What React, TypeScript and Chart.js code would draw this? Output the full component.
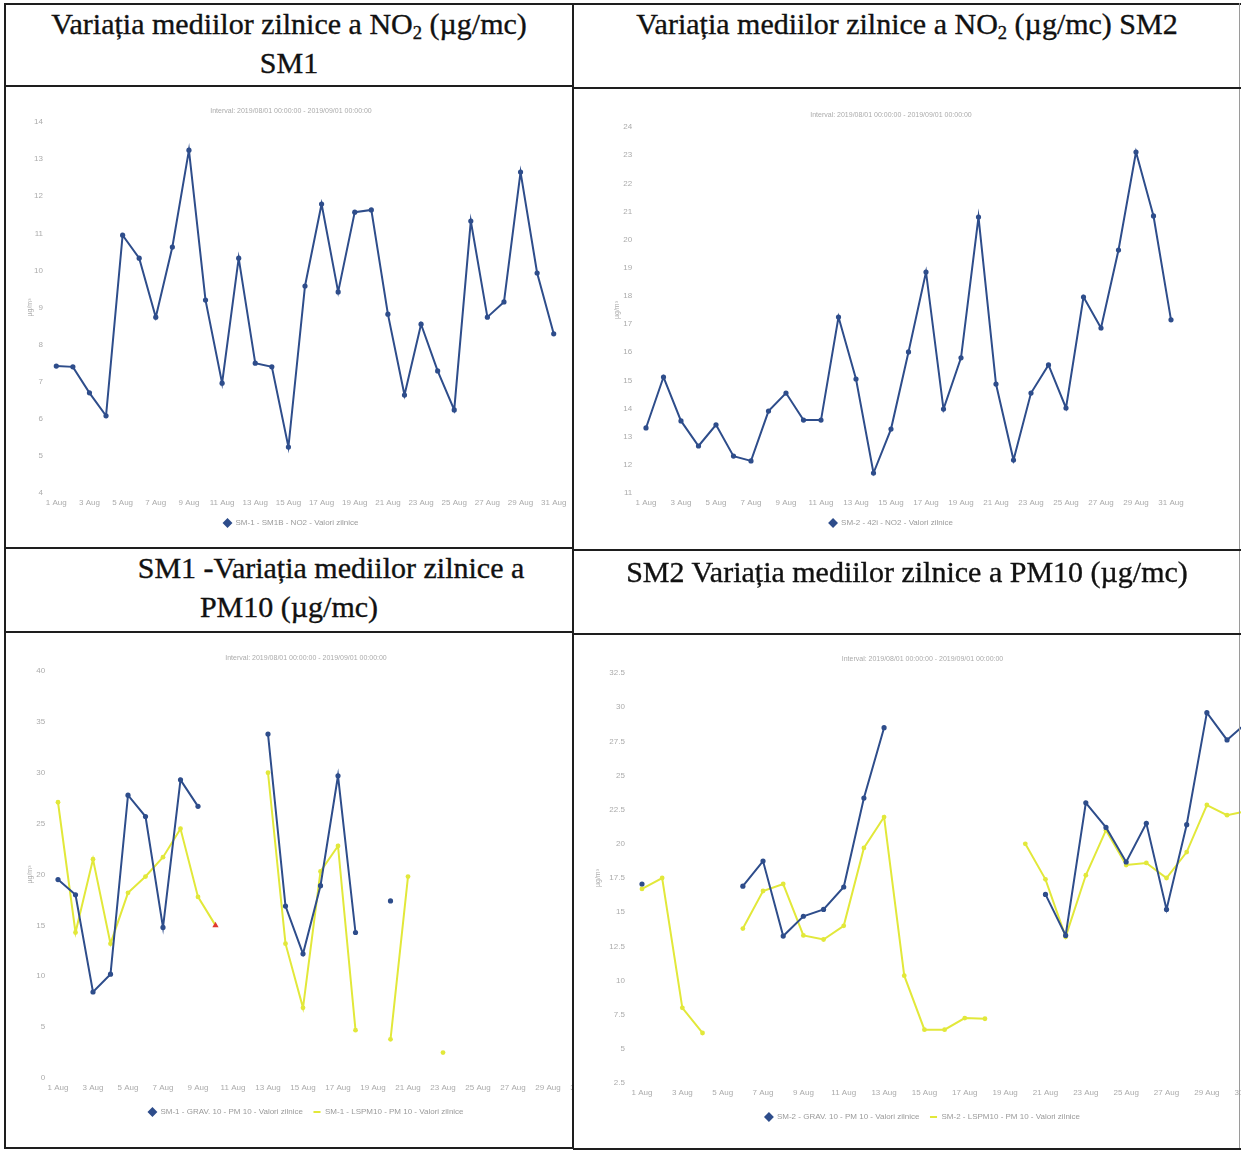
import React, { useEffect, useRef } from "react";
import { Chart, registerables } from "chart.js";

Chart.register(...registerables);

// ---------- data ----------
const dayLabels = [
  "1 Aug", "2 Aug", "3 Aug", "4 Aug", "5 Aug", "6 Aug", "7 Aug", "8 Aug", "9 Aug", "10 Aug",
  "11 Aug", "12 Aug", "13 Aug", "14 Aug", "15 Aug", "16 Aug", "17 Aug", "18 Aug", "19 Aug", "20 Aug",
  "21 Aug", "22 Aug", "23 Aug", "24 Aug", "25 Aug", "26 Aug", "27 Aug", "28 Aug", "29 Aug", "30 Aug",
  "31 Aug",
];

const sm1No2Values = [
  7.42, 7.4, 6.7, 6.08, 10.95, 10.33, 8.74, 10.63, 13.24, 9.2,
  6.96, 10.33, 7.5, 7.4, 5.24, 9.58, 11.79, 9.42, 11.57, 11.63,
  8.82, 6.64, 8.55, 7.29, 6.24, 11.33, 8.74, 9.15, 12.65, 9.93,
  8.29,
];

const sm2No2Values = [
  13.31, 15.12, 13.56, 12.67, 13.42, 12.31, 12.14, 13.91, 14.55, 13.59,
  13.59, 17.25, 15.05, 11.71, 13.27, 16.01, 18.85, 13.98, 15.8, 20.8,
  14.87, 12.17, 14.55, 15.55, 14.02, 17.96, 16.86, 19.63, 23.11, 20.84,
  17.15,
];

const sm1GravValues = [
  19.5, 18.0, 8.45, 10.2, 27.8, 25.7, 14.8, 29.3, 26.7, null,
  null, null, 33.8, 16.9, 12.2, 18.9, 29.7, 14.3, null, 17.4,
  null, null, null, null, null, null, null, null, null, null,
  null,
];

const sm1LspValues = [
  27.1, 14.3, 21.5, 13.2, 18.2, 19.8, 21.7, 24.5, 17.8, 15.0,
  null, null, 30.0, 13.2, 6.9, 20.3, 22.8, 4.7, null, 3.8,
  19.8, null, 2.5, null, null, null, null, null, null, null,
  null,
];

const sm1LspFlaggedDays = ["10 Aug"];

const sm2GravValues = [
  17.06, null, null, null, null, 16.9, 18.74, 13.25, 14.7, 15.2,
  16.84, 23.35, 28.5, null, null, null, null, null, null, null,
  16.3, 13.3, 23.0, 21.2, 18.67, 21.5, 15.2, 21.4, 29.6, 27.6,
  28.9,
];

const sm2LspValues = [
  16.7, 17.5, 8.0, 6.16, null, 13.8, 16.55, 17.06, 13.3, 13.0,
  14.0, 19.7, 21.96, 10.35, 6.4, 6.4, 7.25, 7.2, null, 20.0,
  17.4, 13.2, 17.7, 21.0, 18.45, 18.6, 17.5, 19.4, 22.84, 22.1,
  22.4,
];

const intervalText = "Interval: 2019/08/01 00:00:00 - 2019/09/01 00:00:00";
const yAxisTitle = "µg/m³";
const sm1No2Name = "SM-1 - SM1B - NO2 - Valori zilnice";
const sm2No2Name = "SM-2 - 42i - NO2 - Valori zilnice";
const sm1GravName = "SM-1 - GRAV. 10 - PM 10 - Valori zilnice";
const sm1LspName = "SM-1 - LSPM10 - PM 10 - Valori zilnice";
const sm2GravName = "SM-2 - GRAV. 10 - PM 10 - Valori zilnice";
const sm2LspName = "SM-2 - LSPM10 - PM 10 - Valori zilnice";

// ---------- styles ----------
const BLUE = "#2e4d8b";
const YELLOW = "#e2e83a";
const FLAG = "#e0392f";
const TICK_COLOR = "#ababab";
const LEGEND_COLOR = "#9a9a9a";
const FONT = '"Liberation Sans", Arial, sans-serif';
const SERIF = '"Liberation Serif", "Times New Roman", serif';

type Spec = {
  width: number;
  height: number;
  datasets: any[];
  yMin: number;
  yMax: number;
  yStep: number;
  padL: number;
  padR: number;
  padB: number;
  titlePadTop: number;
  titlePadBottom: number;
  yWidth: number;
  yTickPad: number;
  yTitlePad: number;
  legendPad: number;
};

function blueSeries(label: string, data: (number | null)[]) {
  return {
    label,
    data,
    borderColor: BLUE,
    backgroundColor: BLUE,
    borderWidth: 2,
    pointRadius: 2.6,
    pointBackgroundColor: BLUE,
    pointBorderWidth: 0,
    pointStyle: "circle",
    tension: 0,
    spanGaps: false,
    fill: false,
  };
}

function yellowSeries(label: string, data: (number | null)[], flagged: string[] = []) {
  const isFlag = (i: number) => flagged.includes(dayLabels[i]);
  return {
    label,
    data,
    borderColor: YELLOW,
    backgroundColor: YELLOW,
    borderWidth: 2,
    pointRadius: (c: any) => (isFlag(c.dataIndex) ? 3.6 : 2.4),
    pointBackgroundColor: (c: any) => (isFlag(c.dataIndex) ? FLAG : YELLOW),
    pointBorderWidth: 0,
    pointStyle: (c: any) => (isFlag(c.dataIndex) ? "triangle" : "circle"),
    tension: 0,
    spanGaps: false,
    fill: false,
  };
}

function buildConfig(s: Spec): any {
  return {
    type: "line",
    data: { labels: dayLabels, datasets: s.datasets },
    options: {
      responsive: false,
      maintainAspectRatio: false,
      animation: false,
      events: [],
      layout: { padding: { top: 0, left: s.padL, right: s.padR, bottom: s.padB } },
      plugins: {
        title: {
          display: true,
          text: intervalText,
          color: TICK_COLOR,
          font: { family: FONT, size: 7, weight: "normal" },
          padding: { top: s.titlePadTop, bottom: s.titlePadBottom },
        },
        legend: {
          display: true,
          position: "bottom",
          labels: {
            color: LEGEND_COLOR,
            font: { family: FONT, size: 8 },
            usePointStyle: true,
            boxHeight: 5,
            padding: s.legendPad,
            generateLabels: (chart: any) => {
              const items = (Chart as any).defaults.plugins.legend.labels.generateLabels(chart);
              items.forEach((it: any, i: number) => {
                it.pointStyle = i === 0 ? "rectRot" : "line";
                it.lineWidth = 2;
              });
              return items;
            },
          },
        },
        tooltip: { enabled: false },
      },
      scales: {
        x: {
          type: "category",
          offset: true,
          grid: { display: false, drawTicks: false },
          border: { display: false },
          ticks: {
            color: TICK_COLOR,
            font: { family: FONT, size: 8 },
            autoSkip: false,
            maxRotation: 0,
            minRotation: 0,
            padding: 5,
            callback: (_v: any, i: number) => (i % 2 === 0 ? dayLabels[i] : ""),
          },
          afterFit: (sc: any) => {
            sc.height = 20;
          },
        },
        y: {
          min: s.yMin,
          max: s.yMax,
          grid: { display: false, drawTicks: false },
          border: { display: false },
          ticks: {
            stepSize: s.yStep,
            color: TICK_COLOR,
            font: { family: FONT, size: 8 },
            padding: s.yTickPad,
          },
          title: {
            display: true,
            text: yAxisTitle,
            color: TICK_COLOR,
            font: { family: FONT, size: 7 },
            padding: { top: s.yTitlePad, bottom: 0 },
          },
          afterFit: (sc: any) => {
            sc.width = s.yWidth;
          },
        },
      },
    },
  };
}

function ChartBox({ spec, left, top, clipW, clipH }: { spec: Spec; left: number; top: number; clipW: number; clipH: number }) {
  const ref = useRef<HTMLCanvasElement | null>(null);
  useEffect(() => {
    if (!ref.current) return;
    const chart = new Chart(ref.current, buildConfig(spec));
    return () => chart.destroy();
  }, []);
  return (
    <div style={{ position: "absolute", left, top, width: clipW, height: clipH, overflow: "hidden" }}>
      <canvas
        ref={ref}
        width={spec.width}
        height={spec.height}
        style={{ display: "block", width: spec.width, height: spec.height }}
      />
    </div>
  );
}

const spec1: Spec = {
  width: 566, height: 460,
  datasets: [blueSeries(sm1No2Name, sm1No2Values)],
  yMin: 4, yMax: 14, yStep: 1,
  padL: 14, padR: 10, padB: 10,
  titlePadTop: 20, titlePadBottom: 6.6,
  yWidth: 28, yTickPad: 5, yTitlePad: 5.8,
  legendPad: 6,
};

const spec2: Spec = {
  width: 664, height: 460,
  datasets: [blueSeries(sm2No2Name, sm2No2Values)],
  yMin: 11, yMax: 24, yStep: 1,
  padL: 27.25, padR: 59.25, padB: 11,
  titlePadTop: 22.8, titlePadBottom: 7.8,
  yWidth: 35, yTickPad: 5, yTitlePad: 10.5,
  legendPad: 6,
};

const spec3: Spec = {
  width: 600, height: 514,
  datasets: [blueSeries(sm1GravName, sm1GravValues), yellowSeries(sm1LspName, sm1LspValues, sm1LspFlaggedDays)],
  yMin: 0, yMax: 40, yStep: 5,
  padL: 14.25, padR: 14.25, padB: 21,
  titlePadTop: 20.8, titlePadBottom: 8.8,
  yWidth: 29, yTickPad: 4, yTitlePad: 5.5,
  legendPad: 10,
};

const spec4: Spec = {
  width: 690, height: 514,
  datasets: [blueSeries(sm2GravName, sm2GravValues), yellowSeries(sm2LspName, sm2LspValues)],
  yMin: 2.5, yMax: 32.5, yStep: 2.5,
  padL: 11.9, padR: 6.9, padB: 16,
  titlePadTop: 21.8, titlePadBottom: 9.8,
  yWidth: 45, yTickPad: 7, yTitlePad: 6.9,
  legendPad: 10,
};

function Line({ l, t, w, h, c = "#1e1e1e" }: { l: number; t: number; w: number; h: number; c?: string }) {
  return <div style={{ position: "absolute", left: l, top: t, width: w, height: h, background: c }} />;
}

function Sub2() {
  return (
    <span style={{ fontSize: "0.62em", position: "relative", top: "0.28em" }}>2</span>
  );
}

function Head({ cx, top, children }: { cx: number; top: number; children: React.ReactNode }) {
  return (
    <div
      style={{
        position: "absolute",
        left: cx,
        top,
        transform: "translateX(-50%)",
        whiteSpace: "nowrap",
        fontFamily: SERIF,
        fontSize: 30,
        lineHeight: "39px",
        color: "#111111",
        WebkitTextStroke: "0.35px #111111",
      }}
    >
      {children}
    </div>
  );
}

export default function App() {
  return (
    <div
      style={{
        position: "absolute",
        left: 0,
        top: 0,
        width: 1241,
        height: 1151,
        background: "#ffffff",
        overflow: "hidden",
      }}
    >
      <ChartBox spec={spec1} left={6} top={87} clipW={566} clipH={460} />
      <ChartBox spec={spec2} left={575} top={88} clipW={664} clipH={460} />
      <ChartBox spec={spec3} left={6} top={633} clipW={566} clipH={514} />
      <ChartBox spec={spec4} left={575} top={633} clipW={666} clipH={514} />

      {/* table lines */}
      <Line l={4} t={3} w={1237} h={2} />
      <Line l={4} t={3} w={2} h={1146} />
      <Line l={572} t={3} w={2} h={1146} />
      <Line l={1239} t={3} w={1} h={1146} c="#9a9a9a" />
      <Line l={4} t={85} w={569} h={2} />
      <Line l={573} t={87} w={668} h={2} />
      <Line l={4} t={547} w={569} h={2} />
      <Line l={573} t={549} w={668} h={2} />
      <Line l={4} t={631} w={569} h={2} />
      <Line l={573} t={633} w={668} h={2} />
      <Line l={4} t={1147} w={569} h={2} />
      <Line l={573} t={1148} w={668} h={2} />

      {/* headers */}
      <Head cx={289} top={4}>
        Variația mediilor zilnice a NO<Sub2 /> (µg/mc)
      </Head>
      <Head cx={289} top={43}>SM1</Head>
      <Head cx={907} top={4}>
        Variația mediilor zilnice a NO<Sub2 /> (µg/mc) SM2
      </Head>
      <Head cx={331} top={548}>SM1 -Variația mediilor zilnice a</Head>
      <Head cx={289} top={587}>PM10 (µg/mc)</Head>
      <Head cx={907} top={552}>SM2 Variația mediilor zilnice a PM10 (µg/mc)</Head>
    </div>
  );
}
